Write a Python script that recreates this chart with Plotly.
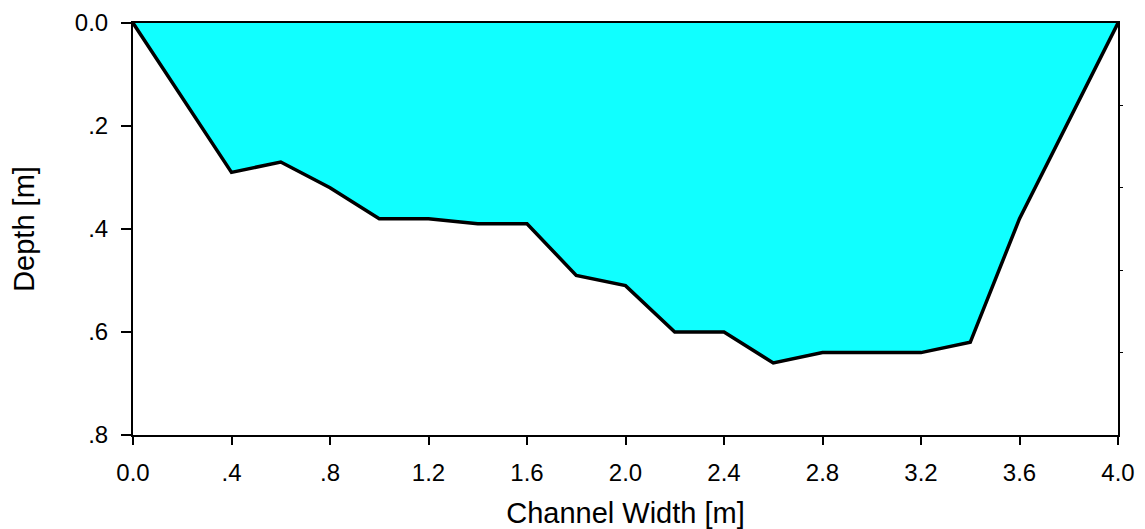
import plotly.graph_objects as go

width_m = [0.0, 0.4, 0.6, 0.8, 1.0, 1.2, 1.4, 1.6, 1.8, 2.0, 2.2, 2.4, 2.6, 2.8, 3.0, 3.2, 3.4, 3.6, 4.0]
depth_m = [0.0, 0.29, 0.27, 0.32, 0.38, 0.38, 0.39, 0.39, 0.49, 0.51, 0.60, 0.60, 0.66, 0.64, 0.64, 0.64, 0.62, 0.38, 0.0]

x_ticks = [0.0, 0.4, 0.8, 1.2, 1.6, 2.0, 2.4, 2.8, 3.2, 3.6, 4.0]
x_labels = ["0.0", ".4", ".8", "1.2", "1.6", "2.0", "2.4", "2.8", "3.2", "3.6", "4.0"]
y_ticks = [0.0, 0.2, 0.4, 0.6, 0.8]
y_labels = ["0.0", ".2", ".4", ".6", ".8"]
right_ticks = [0.16, 0.32, 0.48, 0.64]

font = "Liberation Sans, Arial, sans-serif"

fig = go.Figure()
fig.add_trace(go.Scatter(
    x=width_m, y=depth_m, mode="lines", fill="toself",
    fillcolor="#10FFFF", line=dict(color="black", width=3.5),
    hoverinfo="skip", showlegend=False,
))
fig.add_trace(go.Scatter(
    x=[0, 4], y=[0, 0], yaxis="y2", mode="lines",
    line=dict(color="rgba(0,0,0,0)"), hoverinfo="skip", showlegend=False,
))

fig.update_layout(
    width=1145, height=529,
    margin=dict(l=133, r=27, t=23, b=94),
    paper_bgcolor="white", plot_bgcolor="white",
    font=dict(family=font, size=24, color="black"),
    xaxis=dict(
        range=[0, 4], tickvals=x_ticks, ticktext=x_labels,
        ticks="outside", ticklen=8, tickwidth=2, tickcolor="black",
        tickfont=dict(size=24), ticklabelstandoff=7, automargin=False,
        showline=True, linecolor="black", linewidth=2, mirror=True,
        showgrid=False, zeroline=False,
        title=dict(text="Channel Width [m]", font=dict(size=29), standoff=24),
    ),
    yaxis=dict(
        range=[0.8, 0], tickvals=y_ticks, ticktext=y_labels,
        ticks="outside", ticklen=10, tickwidth=2, tickcolor="black",
        tickfont=dict(size=24), ticklabelstandoff=8, automargin=False,
        showline=True, linecolor="black", linewidth=2,
        showgrid=False, zeroline=False,
        title=dict(text="Depth [m]", font=dict(size=29), standoff=32),
    ),
    yaxis2=dict(
        range=[0.8, 0], overlaying="y", side="right", anchor="x",
        tickvals=right_ticks, showticklabels=False, automargin=False,
        ticks="outside", ticklen=3, tickwidth=1, tickcolor="black",
        showline=True, linecolor="black", linewidth=2,
        showgrid=False, zeroline=False,
    ),
)

fig.write_html("out.html")
